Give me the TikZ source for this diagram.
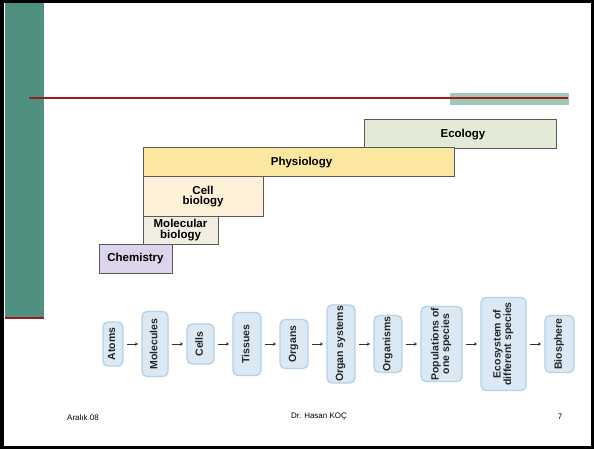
\documentclass[tikz,border=0pt]{standalone}
\usepackage{fontspec}
\setmainfont{Liberation Sans}
\usepackage{tikz}
\usetikzlibrary{
  arrows.meta,
  positioning,  % Function "of" (e.g. [right=of x])
}
\definecolor{slidegreen}{RGB}{79,144,128}
\definecolor{slidepale}{RGB}{160,200,184}
\definecolor{slidered}{RGB}{160,28,28}
\definecolor{ecocol}{RGB}{227,235,214}
\definecolor{physcol}{RGB}{252,231,160}
\definecolor{cellcol}{RGB}{253,240,216}
\definecolor{molcol}{RGB}{241,237,224}
\definecolor{chemcol}{RGB}{220,211,236}
\definecolor{levelfill}{RGB}{219,233,245}
\definecolor{leveldraw}{RGB}{181,208,232}
\newcommand{\vlabel}[1]{\rotatebox{90}{\begin{tabular}{@{}c@{}}#1\end{tabular}}}
\def\mylevdist{17pt}
\tikzset{
  x=1pt,
  y=-1pt,
  field/.style={
    draw=black!65,
    line width=1pt,
    inner sep=0pt,
    outer sep=0pt,
    align=center,
    font=\fontsize{11.5}{10.5}\selectfont\bfseries
  },
  level/.style={
    draw=leveldraw,
    fill=levelfill,
    line width=1.3pt,
    rounded corners=5pt,
    inner sep=0pt,
    outer sep=1pt,
    minimum height=57pt,
    text=black!85,
    font=\fontsize{10.5}{10}\selectfont\bfseries
  },
  up/.style={
    ->,
    >={Stealth[length=3pt,width=3.5pt]},
    draw=black!80,
    line width=1pt,
    shorten <=3pt,
    shorten >=3pt
  },
  footer/.style={
    font=\fontsize{8}{9}\selectfont
  }
}
\begin{document}
\begin{tikzpicture}
\useasboundingbox (0,0) rectangle (594,449);
% slide frame
\fill[slidegreen] (5,3) rectangle (44,318);
\draw[slidered, line width=1.5pt] (5,318) -- (44,318);
\fill[slidepale] (450,93) rectangle (569,105);
\draw[slidered, line width=1.2pt] (29,98) -- (568,98);
\draw[line width=3.5pt] (1.75,1.75) rectangle (592.25,447.25);

% fields
\node[field, fill=ecocol,  minimum width=192pt, minimum height=29pt] (eco)  at (460,134.5) {\hspace*{6pt}Ecology};
\node[field, fill=physcol, minimum width=311pt, minimum height=29pt] (phys) at (298.5,162.5) {\hspace*{6pt}Physiology};
\node[field, fill=cellcol, minimum width=120pt, minimum height=39pt] (cell) at (203,196.5) {Cell\\biology};
\node[field, fill=molcol,  minimum width=75pt,  minimum height=28pt] (mol)  at (180.5,230) {Molecular\\biology};
\node[field, fill=chemcol, minimum width=73pt,  minimum height=29pt] (chem) at (135.5,258.5) {Chemistry};

% levels of organization
\begin{scope}[node distance=\mylevdist]
\node[level, minimum width=20pt, minimum height=44pt] (atoms) at (113,344) {\vlabel{Atoms}};
\node[level, minimum width=26pt, minimum height=65pt] (molec) [right=of atoms] {\vlabel{Molecules}};
\node[level, minimum width=27pt, minimum height=40pt] (cells) [right=of molec] {\vlabel{Cells}};
\node[level, minimum width=28pt, minimum height=63pt] (tiss)  [right=of cells] {\vlabel{Tissues}};
\node[level, minimum width=28pt, minimum height=49pt] (organ) [right=of tiss]  {\vlabel{Organs}};
\node[level, minimum width=28pt, minimum height=78pt] (osys)  [right=of organ] {\vlabel{Organ systems}};
\node[level, minimum width=28pt, minimum height=57pt] (orgm)  [right=of osys]  {\vlabel{Organisms}};
\node[level, minimum width=41pt, minimum height=75pt] (pop)   [right=of orgm]  {\vlabel{Populations of\\one species}};
\node[level, minimum width=45pt, minimum height=93pt] (ecos)  [right=of pop]   {\vlabel{Ecosystem of\\different species}};
\node[level, minimum width=29pt, minimum height=57pt] (bio)   [right=of ecos]  {\vlabel{Biosphere}};
\end{scope}
\foreach \a/\b in {atoms/molec,molec/cells,cells/tiss,tiss/organ,organ/osys,
                   osys/orgm,orgm/pop,pop/ecos,ecos/bio}
  \draw[up] (\a) -- (\b);

% footer
\node[footer] (date) at (83,418) {Aralık 08};
\node[footer] (auth) at (319,417) {Dr. Hasan KOÇ};
\node[footer] (page) at (560,417) {7};
\end{tikzpicture}
\end{document}
